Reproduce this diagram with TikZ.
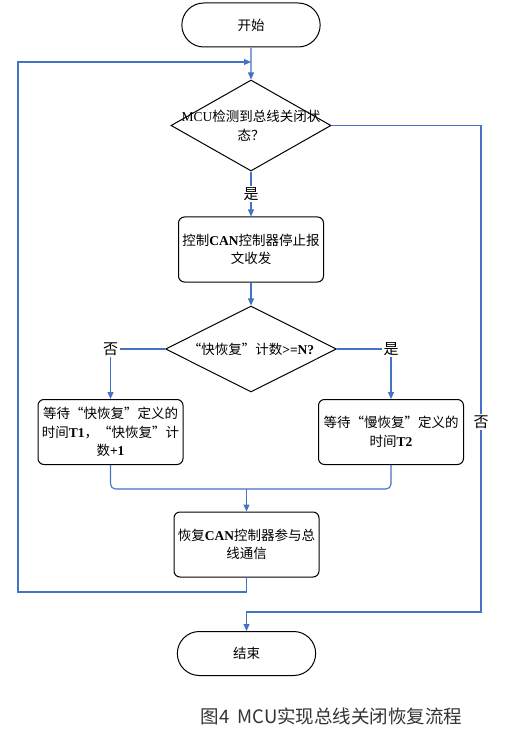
\documentclass[tikz,border=0pt]{standalone}
\usepackage{fontspec}
\newfontfamily\cjk{Noto Sans CJK SC}
\newfontfamily\tnr{Liberation Serif}
\newcommand\en[1]{{\tnr\bfseries #1}}
\usetikzlibrary{shapes.geometric,shapes.misc,positioning,arrows.meta}
\definecolor{flowblue}{RGB}{68,114,196}

\begin{document}
\begin{tikzpicture}[
  x=1pt, y=-1pt,
  >={Triangle[length=7pt,width=6pt]},
  every node/.style={font=\cjk\fontsize{13.5}{18.5}\selectfont},
  term/.style={draw, line width=1pt, rounded rectangle, minimum width=145pt, minimum height=44pt},
  proc/.style={draw, line width=1pt, rounded corners=6pt, minimum width=145pt, minimum height=65pt, align=center, inner sep=2pt},
  dec/.style={draw, line width=1pt, diamond, inner sep=0pt},
  flow/.style={->, flowblue, line width=1.1pt},
  line/.style={flowblue, line width=1.1pt},
  lbl/.style={fill=white, text=black, inner sep=1.5pt, font=\cjk\fontsize{15}{18}\selectfont}
]
  \useasboundingbox (0,0) rectangle (511,735);

  \node[term] (start) at (251,25) {开始};
  \node[dec, minimum width=160pt, minimum height=91pt, below=32pt of start,
        label={[align=center]center:{{\tnr MCU}检测到总线关闭状\\态？}}] (chk) {};
  \node[proc, below=45pt of chk] (stop) {控制\en{CAN}控制器停止报\\文收发};
  \node[dec, minimum width=171pt, minimum height=86pt, below=23pt of stop,
        label={center:{“快恢复”计数\en{>=N?}}}] (cnt) {};
  \node[proc] (fast) at (110.5,432) {等待“快恢复”定义的\\时间\en{T1}，“快恢复”计\\数\en{+1}};
  \node[proc] (slow) at (391,432) {等待“慢恢复”定义的\\时间\en{T2}};
  \node[proc] (resume) at (246.5,544.5) {恢复\en{CAN}控制器参与总\\线通信};
  \node[term] (end) at (246.5,653.5) {结束};
  \node[font=\cjk\fontsize{18.5}{22}\selectfont, text=black!80] (cap) at (331.5,716) {图4\ \ MCU实现总线关闭恢复流程};

  \coordinate (join) at (251,62);
  \coordinate (loopbl) at (18,592);
  \coordinate (nobr) at (481,612);
  \coordinate (mg) at (246.5,489);

  \draw[flow] (start) -- (chk);
  \draw[flow] (chk) -- node[lbl] {是} (stop);
  \draw[flow] (stop) -- (cnt);
  \draw[flow] (cnt.west) -| node[lbl, pos=0.5] {否} (fast.north);
  \draw[flow] (cnt.east) -| node[lbl, pos=0.5] {是} (slow.north);
  \draw[line, rounded corners=5pt] (fast.south) |- (mg) -| (slow.south);
  \draw[flow] (mg) -- (resume);
  \draw[flow] (resume.south) |- (loopbl) |- (join);
  \draw[flow] (chk.east) -| node[lbl, pos=0.805] {否} (nobr) -| (end.north);

\end{tikzpicture}
\end{document}
